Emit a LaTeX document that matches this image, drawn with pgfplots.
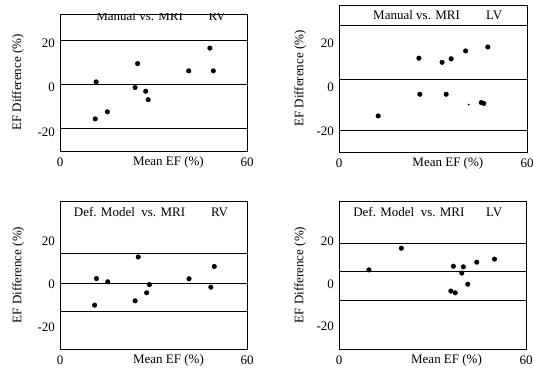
\documentclass[border=0pt]{standalone}
\usepackage{fontspec}
\setmainfont{Liberation Serif}
\usepackage{pgfplots}
\pgfplotsset{compat=1.18}
\newcommand{\fs}{\fontsize{13}{15}\selectfont}
\pgfplotsset{
  ba/.style={
    scale only axis, xmin=0, xmax=60, xtick={0,60}, ytick={-20,0,20},
    major tick length=0pt, axis line style={line width=0.6pt},
    /pgf/number format/assume math mode=true,
    tick label style={font=\fs},
    label style={font=\fs},
    xticklabel style={anchor=center, yshift=-11pt},
    yticklabel style={anchor=east, xshift=-0.5pt},
    xlabel={Mean EF (\%)},
    ylabel={EF Difference (\%)},
  },
  dots/.style={only marks, mark=*, mark size=2.3pt, black, mark options={draw=black, fill=black}},
  lim/.style={black, line width=0.8pt, no marks},
}
\begin{document}
\fs
\begin{tikzpicture}
\useasboundingbox (0pt,-374pt) rectangle (534pt,0pt);

% Panel 1: Manual vs MRI, RV
\begin{axis}[ba, at={(60pt,-151pt)}, anchor=south west, width=187pt, height=137pt,
  ymin=-28.6, ymax=33.3,
  xlabel style={at={(axis description cs:0.58,0)}, anchor=center, yshift=-11pt},
  ylabel style={at={(axis description cs:-0.225,0.5)}, anchor=center}]
\addplot[lim] coordinates {(0,21.5) (60,21.5)};
\addplot[lim] coordinates {(0,1.6) (60,1.6)};
\addplot[lim] coordinates {(0,-18.2) (60,-18.2)};
\addplot[dots] coordinates {(11.6,2.6) (15.2,-10.9) (11.3,-14.1) (24.9,10.9) (24.1,0.1) (27.5,-1.6) (28.3,-5.4) (41.3,7.6) (48.1,17.9) (49.2,7.6)};
\node[anchor=west, font=\fs] at (axis description cs:0.17,0.983) {Manual vs. MRI};
\node[anchor=center, font=\fs] at (axis description cs:0.84,0.983) {RV};
\end{axis}

% Panel 2: Manual vs MRI, LV
\begin{axis}[ba, at={(339pt,-152pt)}, anchor=south west, width=188pt, height=147pt,
  ymin=-29.7, ymax=37.5,
  xlabel style={at={(axis description cs:0.579,0)}, anchor=center, yshift=-11pt},
  ylabel style={at={(axis description cs:-0.206,0.5)}, anchor=center}]
\addplot[lim] coordinates {(0,28.4) (60,28.4)};
\addplot[lim] coordinates {(0,3.7) (60,3.7)};
\addplot[lim] coordinates {(0,-19.8) (60,-19.8)};
\addplot[dots] coordinates {(25.5,13.2) (32.9,11.3) (35.8,12.9) (40.4,16.5) (47.5,18.3) (25.8,-3.3) (34.2,-3.3) (12.5,-13.2) (45.4,-7.1) (46.2,-7.5)};
\addplot[only marks, mark=*, mark size=0.7pt, black] coordinates {(41.4,-8.0)};
\node[anchor=west, font=\fs] at (axis description cs:0.158,0.932) {Manual vs. MRI};
\node[anchor=center, font=\fs] at (axis description cs:0.826,0.932) {LV};
\end{axis}

% Panel 3: Def. Model vs MRI, RV
\begin{axis}[ba, at={(60pt,-349pt)}, anchor=south west, width=187pt, height=148pt,
  ymin=-30, ymax=38.5,
  xlabel style={at={(axis description cs:0.58,0)}, anchor=center, yshift=-11pt},
  ylabel style={at={(axis description cs:-0.224,0.5)}, anchor=center}]
\addplot[lim] coordinates {(0,14.2) (60,14.2)};
\addplot[lim] coordinates {(0,0.3) (60,0.3)};
\addplot[lim] coordinates {(0,-12.8) (60,-12.8)};
\addplot[dots] coordinates {(11.7,2.6) (15.3,1.1) (11.1,-9.7) (25.1,12.6) (24.1,-7.7) (27.8,-4.0) (28.7,-0.2) (41.4,2.5) (48.4,-1.4) (49.5,8.2)};
\node[anchor=west, font=\fs] at (axis description cs:0.05,0.926) {Def. Model\ \ vs. MRI};
\node[anchor=center, font=\fs] at (axis description cs:0.853,0.926) {RV};
\end{axis}

% Panel 4: Def. Model vs MRI, LV
\begin{axis}[ba, at={(339pt,-349pt)}, anchor=south west, width=187pt, height=148pt,
  ymin=-30.4, ymax=38.6,
  xlabel style={at={(axis description cs:0.575,0)}, anchor=center, yshift=-11pt},
  ylabel style={at={(axis description cs:-0.207,0.5)}, anchor=center}]
\addplot[lim] coordinates {(0,18.8) (60,18.8)};
\addplot[lim] coordinates {(0,5.9) (60,5.9)};
\addplot[lim] coordinates {(0,-7.6) (60,-7.6)};
\addplot[dots] coordinates {(9.6,6.5) (20.0,16.6) (36.7,8.2) (39.9,7.9) (39.4,5.0) (44.2,10.1) (49.9,11.5) (41.3,-0.2) (35.9,-3.4) (37.3,-4.2)};
\node[anchor=west, font=\fs] at (axis description cs:0.052,0.926) {Def. Model\ \ vs. MRI};
\node[anchor=center, font=\fs] at (axis description cs:0.83,0.926) {LV};
\end{axis}
\end{tikzpicture}
\end{document}
